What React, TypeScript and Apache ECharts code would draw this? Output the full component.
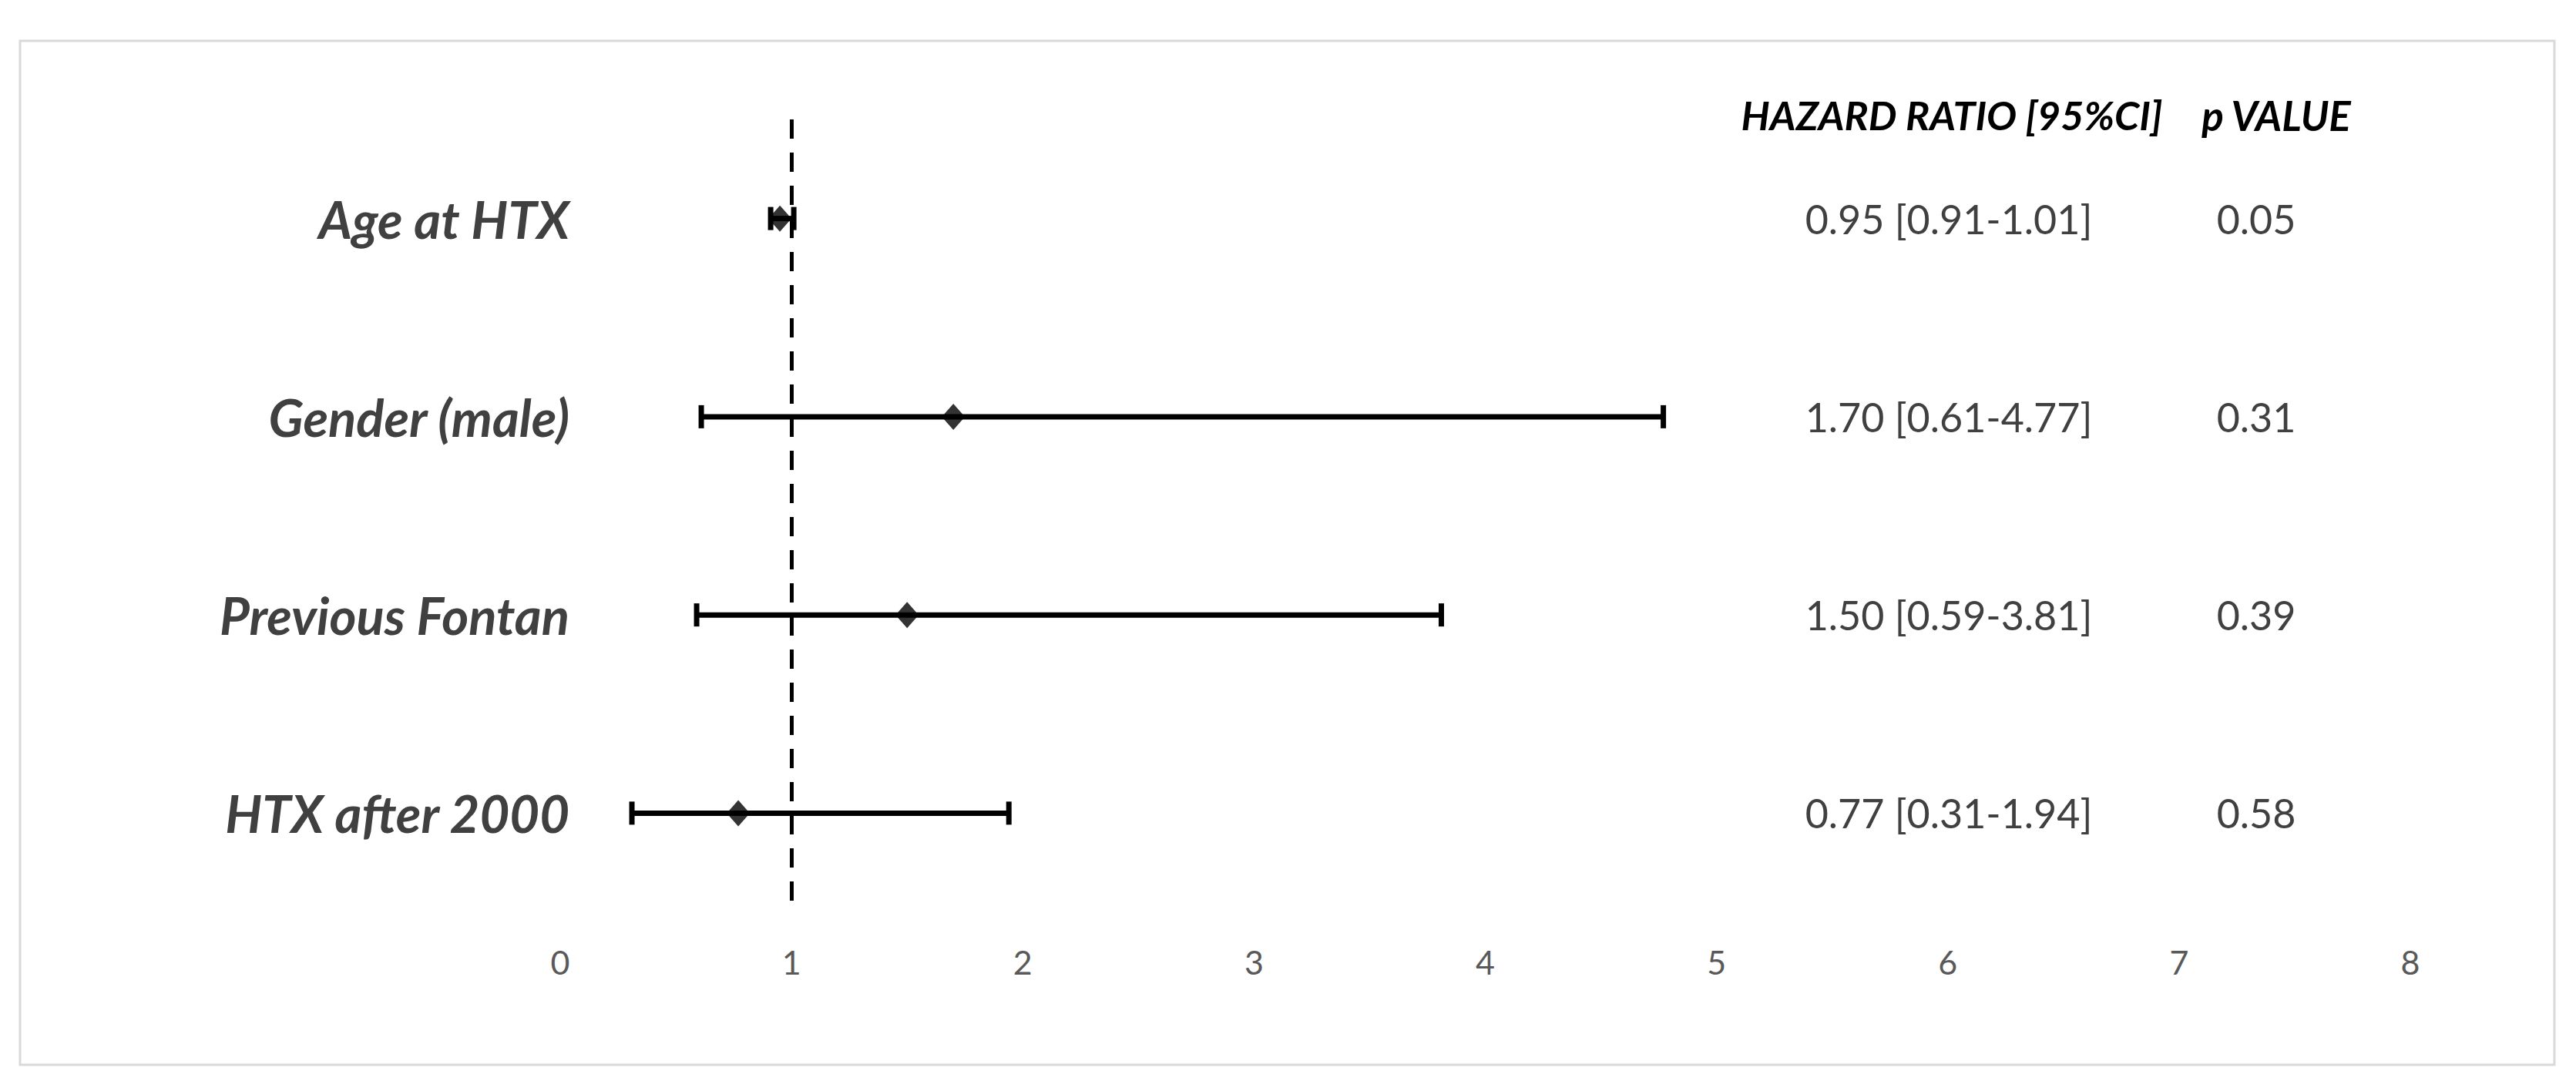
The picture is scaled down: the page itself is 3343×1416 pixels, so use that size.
import React, { useEffect, useRef } from "react";
import * as echarts from "echarts";

const categories = ["Age at HTX", "Gender (male)", "Previous Fontan", "HTX after 2000"];
const hazardRatio = [0.95, 1.7, 1.5, 0.77];
const ciLow = [0.91, 0.61, 0.59, 0.31];
const ciHigh = [1.01, 4.77, 3.81, 1.94];
const pValues = ["0.05", "0.31", "0.39", "0.58"];
const xTicks = [0, 1, 2, 3, 4, 5, 6, 7, 8];
const headerHR = "HAZARD RATIO [95%CI]";
const headerP = "p VALUE";

const FONT = "Lato, 'Open Sans', sans-serif";

export default function App() {
  const ref = useRef<HTMLDivElement>(null);
  useEffect(() => {
    if (!ref.current) return;
    const chart = echarts.init(ref.current, null, { renderer: "svg" });
    const W = 3343;
    const gridLeft = 727;
    const gridRight = W - 3128;
    const gridTop = 155;
    const gridBottom = 1416 - 1184;
    const hrColX = 2529;
    const pColX = 2928;

    const errData = categories.map((_, i) => [ciLow[i], ciHigh[i], i]);
    const pointData = categories.map((_, i) => [hazardRatio[i], i]);
    const textData = categories.map((_, i) => [
      0,
      i,
      `${hazardRatio[i].toFixed(2)} [${ciLow[i].toFixed(2)}-${ciHigh[i].toFixed(2)}]`,
      pValues[i],
    ]);

    chart.setOption({
      animation: false,
      backgroundColor: "#ffffff",
      grid: { left: gridLeft, right: gridRight, top: gridTop, bottom: gridBottom, containLabel: false },
      xAxis: {
        type: "value",
        min: xTicks[0],
        max: xTicks[xTicks.length - 1],
        interval: 1,
        axisLine: { show: false },
        axisTick: { show: false },
        splitLine: { show: false },
        axisLabel: {
          color: "#595959",
          fontFamily: FONT,
          fontSize: 43,
          margin: 43,
        },
      },
      yAxis: {
        type: "category",
        inverse: true,
        data: categories,
        axisLine: { show: false },
        axisTick: { show: false },
        splitLine: { show: false },
        axisLabel: {
          color: "#404040",
          fontFamily: FONT,
          fontSize: 67,
          fontWeight: "bold",
          fontStyle: "italic",
          margin: -12,
        },
      },
      graphic: [
        {
          type: "rect",
          shape: { x: 26, y: 53, width: 3289, height: 1329 },
          style: { fill: "none", stroke: "#d9d9d9", lineWidth: 3 },
          silent: true,
          z: 0,
        },
        {
          type: "text",
          x: 2533,
          y: 149,
          style: {
            text: headerHR,
            fill: "#000000",
            font: `italic bold 52px ${FONT}`,
            textAlign: "center",
            textVerticalAlign: "middle",
          },
        },
        {
          type: "text",
          x: 2954,
          y: 149,
          style: {
            text: headerP,
            fill: "#000000",
            font: `italic bold 53px ${FONT}`,
            textAlign: "center",
            textVerticalAlign: "middle",
          },
        },
      ],
      series: [
        {
          type: "custom",
          name: "CI",
          data: errData,
          encode: { x: [0, 1], y: 2 },
          z: 2,
          renderItem: (params: any, api: any) => {
            const lo = api.coord([api.value(0), api.value(2)]);
            const hi = api.coord([api.value(1), api.value(2)]);
            const h = 15;
            const st = { stroke: "#000000", lineWidth: 7 };
            return {
              type: "group",
              children: [
                { type: "line", shape: { x1: lo[0], y1: lo[1], x2: hi[0], y2: hi[1] }, style: st },
                { type: "line", shape: { x1: lo[0], y1: lo[1] - h, x2: lo[0], y2: lo[1] + h }, style: st },
                { type: "line", shape: { x1: hi[0], y1: hi[1] - h, x2: hi[0], y2: hi[1] + h }, style: st },
              ],
            };
          },
        },
        {
          type: "scatter",
          name: "HR",
          data: pointData,
          symbol: "diamond",
          symbolSize: [30, 34],
          itemStyle: { color: "#000000" },
          z: 3,
          markLine: {
            silent: true,
            symbol: "none",
            label: { show: false },
            lineStyle: { color: "#000000", width: 5, type: [25, 18] },
            data: [{ xAxis: 1 }],
          },
        },
        {
          type: "custom",
          name: "table",
          data: textData,
          encode: { x: 0, y: 1 },
          z: 4,
          renderItem: (params: any, api: any) => {
            const pt = api.coord([0, api.value(1)]);
            const i = params.dataIndex;
            return {
              type: "group",
              children: [
                {
                  type: "text",
                  x: hrColX,
                  y: pt[1],
                  style: {
                    text: textData[i][2],
                    fill: "#404040",
                    font: `52px ${FONT}`,
                    textAlign: "center",
                    textVerticalAlign: "middle",
                  },
                },
                {
                  type: "text",
                  x: pColX,
                  y: pt[1],
                  style: {
                    text: textData[i][3],
                    fill: "#404040",
                    font: `52px ${FONT}`,
                    textAlign: "center",
                    textVerticalAlign: "middle",
                  },
                },
              ],
            };
          },
        },
      ],
    });
    return () => chart.dispose();
  }, []);
  return (
    <div
      ref={ref}
      style={{ position: "absolute", left: 0, top: 0, width: 3343, height: 1416, background: "#fff" }}
    />
  );
}
